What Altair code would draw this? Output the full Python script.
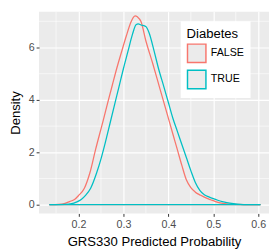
import altair as alt
import pandas as pd

groups = ["FALSE", "TRUE"]
colors = ["#F8766D", "#00BFC4"]

false_x = [0.135, 0.155, 0.17, 0.18, 0.191, 0.2, 0.213, 0.225, 0.238, 0.255, 0.266, 0.275, 0.285, 0.296, 0.3065, 0.317, 0.322, 0.326, 0.331, 0.339, 0.35, 0.365, 0.38, 0.395, 0.41, 0.42, 0.43, 0.44, 0.45, 0.46, 0.472, 0.485, 0.494, 0.505, 0.515, 0.53, 0.55, 0.57, 0.605]
false_y = [0.0, 0.01, 0.05, 0.12, 0.2, 0.35, 0.63, 1.2, 2.11, 3.22, 3.96, 4.55, 5.2, 5.85, 6.45, 6.98, 7.15, 7.21, 7.17, 6.99, 6.25, 5.4, 4.5, 3.6, 2.7, 2.1, 1.5, 0.95, 0.65, 0.48, 0.36, 0.25, 0.19, 0.12, 0.07, 0.03, 0.01, 0.003, 0.0]

true_x = [0.135, 0.17, 0.185, 0.195, 0.206, 0.215, 0.227, 0.24, 0.25, 0.26, 0.27, 0.28, 0.29, 0.3, 0.31, 0.32, 0.328, 0.333, 0.339, 0.3497, 0.357, 0.368, 0.378, 0.39, 0.4, 0.41, 0.42, 0.43, 0.44, 0.45, 0.46, 0.47, 0.48, 0.49, 0.5, 0.51, 0.52, 0.53, 0.545, 0.56, 0.58, 0.605]
true_y = [0.0, 0.01, 0.04, 0.1, 0.2, 0.35, 0.63, 1.2, 1.75, 2.4, 3.1, 3.8, 4.5, 5.2, 5.85, 6.5, 6.87, 6.9, 6.86, 6.8, 6.56, 5.88, 5.2, 4.5, 3.9, 3.3, 2.8, 2.3, 1.8, 1.3, 0.85, 0.55, 0.38, 0.3, 0.23, 0.17, 0.12, 0.08, 0.04, 0.015, 0.005, 0.0]

x_major = [0.2, 0.3, 0.4, 0.5, 0.6]
x_minor = [0.15, 0.25, 0.35, 0.45, 0.55]
y_major = [0, 2, 4, 6]
y_minor = [1, 3, 5, 7]

rows = []
base_rows = []
for g, xs_, ys_ in [("FALSE", false_x, false_y), ("TRUE", true_x, true_y)]:
    for xv, yv in zip(xs_, ys_):
        rows.append({"g": g, "x": xv, "y": yv})
    base_rows.append({"g": g, "x": xs_[0], "x2": xs_[-1], "y": 0.0})
df = pd.DataFrame(rows)
base = pd.DataFrame(base_rows)

xdom = [0.1121, 0.624]
ydom = [-0.333, 7.37]

xs = alt.Scale(domain=xdom, nice=False, zero=False)
ys = alt.Scale(domain=ydom, nice=False, zero=False)

xaxis = alt.Axis(values=x_major, title="GRS330 Predicted Probability", format=".1f",
                 grid=True, gridColor="white", gridWidth=1.2, titlePadding=6)
yaxis = alt.Axis(values=y_major, title="Density", format="d",
                 grid=True, gridColor="white", gridWidth=1.2, titlePadding=6)

cscale = alt.Scale(domain=groups, range=colors)
legend = alt.Legend(title="Diabetes", orient="none", legendX=146, legendY=10,
                    symbolType="square", symbolSize=361, symbolStrokeWidth=1.5,
                    symbolFillColor="#ebebeb", fillColor="white", padding=6,
                    titleFontSize=13.5, titleFontWeight="normal", titleColor="black",
                    labelFontSize=11, labelColor="black", rowPadding=2,
                    titlePadding=3, labelOffset=4)

vminor = alt.Chart(pd.DataFrame({"v": x_minor})).mark_rule(color="white", strokeWidth=0.6).encode(
    x=alt.X("v:Q", scale=xs, axis=xaxis))
hminor = alt.Chart(pd.DataFrame({"v": y_minor})).mark_rule(color="white", strokeWidth=0.6).encode(
    y=alt.Y("v:Q", scale=ys, axis=yaxis))

baseline = alt.Chart(base).mark_rule(strokeWidth=1.3).encode(
    x=alt.X("x:Q", scale=xs, axis=xaxis),
    x2="x2:Q",
    y=alt.Y("y:Q", scale=ys, axis=yaxis),
    color=alt.Color("g:N", scale=cscale, legend=legend),
)

lines = alt.Chart(df).mark_line(strokeWidth=1.3, interpolate="monotone").encode(
    x=alt.X("x:Q", scale=xs, axis=xaxis),
    y=alt.Y("y:Q", scale=ys, axis=yaxis),
    color=alt.Color("g:N", scale=cscale, legend=legend),
)

chart = alt.layer(vminor, hminor, lines, baseline).properties(
    width=237, height=208,
    autosize=alt.AutoSizeParams(type="none"),
    padding={"left": 32, "top": 0, "right": 0, "bottom": 36},
).configure_view(fill="#ebebeb", stroke=None).configure_axis(
    domain=False, tickColor="#333333", tickSize=3, tickWidth=1,
    labelColor="#4d4d4d", labelFontSize=11, labelFont="Liberation Sans", labelPadding=2,
    titleFont="Liberation Sans", titleFontSize=13.5, titleFontWeight="normal", titleColor="black",
).configure_legend(titleFont="Liberation Sans", labelFont="Liberation Sans")

chart.save("out.html", embed_options={"renderer": "svg", "actions": False})
